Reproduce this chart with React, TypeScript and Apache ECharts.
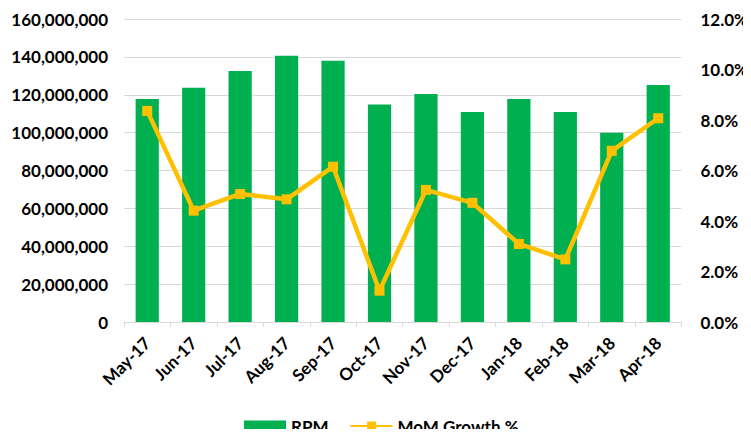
import React, { useEffect, useRef } from "react";
import * as echarts from "echarts";

const categories = ["May-17", "Jun-17", "Jul-17", "Aug-17", "Sep-17", "Oct-17", "Nov-17", "Dec-17", "Jan-18", "Feb-18", "Mar-18", "Apr-18"];
const rpm = [117700000, 123700000, 132500000, 140600000, 138000000, 114900000, 120400000, 110900000, 117700000, 110900000, 100000000, 125100000];
const growth = [8.36, 4.41, 5.07, 4.86, 6.15, 1.24, 5.23, 4.72, 3.09, 2.48, 6.78, 8.07];

const FONT = "Lato";
const FS = 17;

export default function App() {
  const ref = useRef<HTMLDivElement>(null);
  useEffect(() => {
    if (!ref.current) return;
    const chart = echarts.init(ref.current, null, { renderer: "svg" });
    chart.setOption({
      animation: false,
      textStyle: { fontFamily: FONT },
      grid: { left: 124, right: 67, top: 19, bottom: 115 },
      legend: {
        top: 417,
        left: 244,
        padding: 0,
        itemWidth: 42,
        itemHeight: 11,
        itemGap: 21,
        textStyle: { fontFamily: FONT, fontWeight: "bold", fontSize: FS, lineHeight: 18, color: "#000" },
        data: [
          { name: "RPM", icon: "rect" },
          { name: "MoM Growth %" },
        ],
      },
      xAxis: {
        type: "category",
        data: categories,
        boundaryGap: true,
        axisLine: { lineStyle: { color: "#D9D9D9", width: 1 } },
        axisTick: { show: true, length: 5, lineStyle: { color: "#D9D9D9" } },
        axisLabel: {
          rotate: 45,
          interval: 0,
          margin: 18,
          fontFamily: FONT,
          fontWeight: "bold",
          fontSize: FS,
          color: "#000",
        },
      },
      yAxis: [
        {
          type: "value",
          min: 0,
          max: 160000000,
          interval: 20000000,
          axisLine: { show: false },
          axisTick: { show: false },
          splitLine: { lineStyle: { color: "#D9D9D9" } },
          axisLabel: {
            margin: 16,
            fontFamily: FONT,
            fontWeight: "bold",
            fontSize: FS,
            color: "#000",
            formatter: (v: number) => v.toLocaleString("en-US"),
          },
        },
        {
          type: "value",
          min: 0,
          max: 12,
          interval: 2,
          axisLine: { show: false },
          axisTick: { show: false },
          splitLine: { show: false },
          axisLabel: {
            margin: 19,
            align: "left",
            fontFamily: FONT,
            fontWeight: "bold",
            fontSize: FS,
            color: "#000",
            formatter: (v: number) => v.toFixed(1) + "%",
          },
        },
      ],
      series: [
        {
          name: "RPM",
          type: "bar",
          data: rpm,
          barWidth: "50%",
          itemStyle: { color: "#00B050" },
        },
        {
          name: "MoM Growth %",
          type: "line",
          yAxisIndex: 1,
          data: growth,
          symbol: "rect",
          symbolSize: 10,
          lineStyle: { color: "#FFC000", width: 4.5 },
          itemStyle: { color: "#FFC000" },
        },
      ],
    });
    return () => chart.dispose();
  }, []);
  return <div ref={ref} style={{ width: 751, height: 437, margin: -8 }} />;
}
